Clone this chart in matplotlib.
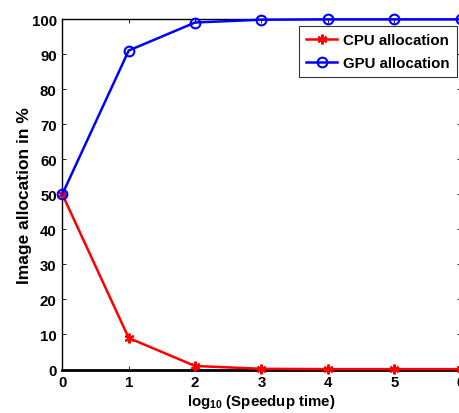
import matplotlib
matplotlib.use('Agg')
import matplotlib.pyplot as plt

speedup_log = [0, 1, 2, 3, 4, 5, 6]
cpu_alloc = [50, 9, 1, 0.2, 0.1, 0.1, 0.1]
gpu_alloc = [50, 91, 99, 99.8, 99.9, 99.9, 99.9]

plt.rcParams['font.family'] = ['Liberation Sans', 'DejaVu Sans']
plt.rcParams['font.weight'] = 'bold'
plt.rcParams['mathtext.fontset'] = 'custom'
plt.rcParams['mathtext.rm'] = 'Liberation Sans:bold'
plt.rcParams['mathtext.it'] = 'Liberation Sans:bold'
plt.rcParams['mathtext.bf'] = 'Liberation Sans:bold'

fig = plt.figure(figsize=(4.59, 4.14), dpi=100)
ax = fig.add_axes([62.3 / 459, 43.5 / 414, 398.4 / 459, 350.5 / 414])

ax.plot(speedup_log, cpu_alloc, '-', color='red', marker=(6, 2, 0), markersize=7,
        markeredgewidth=1.5, linewidth=1.8, label='CPU allocation', clip_on=False, zorder=3)
ax.plot(speedup_log, gpu_alloc, '-o', color='blue', markerfacecolor='none', markersize=7,
        markeredgewidth=1.5, linewidth=1.8, label='GPU allocation', clip_on=False, zorder=3)

ax.set_xlim(0, 6)
ax.set_ylim(0, 100)
ax.set_xticks(range(0, 7))
ax.set_yticks(range(0, 101, 10))
ax.tick_params(direction='in', top=True, right=True, labelsize=10.8, length=3, width=0.6, pad=4)
for s in ax.spines.values():
    s.set_linewidth(1.0)
ax.spines['bottom'].set_linewidth(2.0)

ax.set_xlabel(r'log$_{10}$ (Speedup time)', fontsize=10.8, fontweight='bold', labelpad=2)
ax.set_ylabel('Image allocation in %', fontsize=12.5, fontweight='bold', labelpad=0)

leg = ax.legend(loc='upper right', bbox_to_anchor=(0.99, 0.979), fontsize=10.8, frameon=True,
                fancybox=False, edgecolor='black', handlelength=2.1, borderpad=0.45,
                labelspacing=0.6, handletextpad=0.4, borderaxespad=0)
leg.get_frame().set_linewidth(0.8)

fig.savefig('out.png', dpi=100)
